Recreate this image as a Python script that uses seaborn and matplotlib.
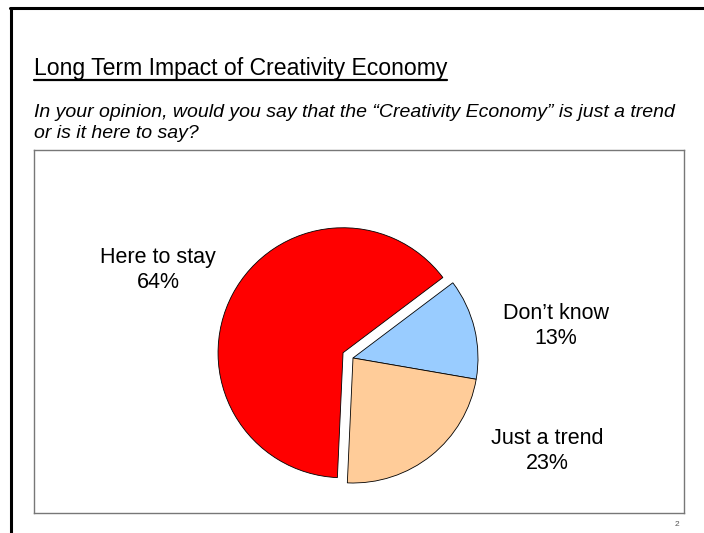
import matplotlib
matplotlib.use("Agg")
import matplotlib.pyplot as plt
import seaborn as sns
from matplotlib.lines import Line2D

# survey answers (clockwise from the upper right)
answers = ["Don\u2019t know", "Just a trend", "Here to stay"]
shares = [13, 23, 64]
slice_colors = ["#99CCFF", "#FFCC99", "#FF0000"]

title = "Long Term Impact of Creativity Economy"
question = ("In your opinion, would you say that the \u201cCreativity Economy\u201d is just a trend\n"
            "or is it here to say?")

W, H = 704, 533

sns.set_theme(style="white")
plt.rcParams["font.family"] = ["Liberation Sans", "DejaVu Sans"]
plt.rcParams["text.color"] = "black"

fig = plt.figure(figsize=(W / 100, H / 100), dpi=100)
fig.patch.set_facecolor("white")


def fx(px):
    return px / W


def fy(py):
    return 1 - py / H


# slide border (left + top)
fig.add_artist(Line2D([fx(11), fx(11)], [fy(8), fy(H)], color="black", lw=2.2,
                      transform=fig.transFigure))
fig.add_artist(Line2D([fx(10), fx(W)], [fy(8), fy(8)], color="black", lw=2.2,
                      transform=fig.transFigure))

# title, underlined
t = fig.text(fx(34), fy(75), title, fontsize=16.6, ha="left", va="baseline")
fig.canvas.draw()
bb = t.get_window_extent().transformed(fig.transFigure.inverted())
fig.add_artist(Line2D([bb.x0, bb.x1], [fy(80), fy(80)], color="black", lw=1.6,
                      transform=fig.transFigure))

fig.text(fx(34), fy(104), question, fontsize=14, style="italic", ha="left", va="top",
         linespacing=1.3)

# chart box
ax = fig.add_axes([fx(34), fy(513), fx(684 - 34), (513 - 150) / H])
for s in ax.spines.values():
    s.set_visible(True)
    s.set_color("#777777")
    s.set_linewidth(1.0)
ax.set_xticks([])
ax.set_yticks([])

scale = 125.0  # pixels per pie radius
cx, cy = (353 - 34) / scale, (513 - 358) / scale

explode = [0.09 if a == "Here to stay" else 0 for a in answers]
ax.pie(shares, colors=slice_colors, explode=explode, startangle=37, counterclock=False,
       center=(cx, cy), radius=1.0, frame=True,
       wedgeprops=dict(edgecolor="black", linewidth=0.6))
ax.set_xlim(0, 650 / scale)
ax.set_ylim(0, 363 / scale)
ax.set_aspect("equal")

label_pos = {
    "Here to stay": (158, 270),
    "Don\u2019t know": (556, 326),
    "Just a trend": (547, 451),
}
for a, v in zip(answers, shares):
    px, py = label_pos[a]
    ax.text((px - 34) / scale, (513 - py) / scale, f"{a}\n{v}%", ha="center", va="center",
            fontsize=15.5, linespacing=1.2, color="black")

fig.text(fx(677), fy(524), "2", fontsize=6, color="#555555", ha="center", va="center")

fig.savefig("out.png", dpi=100)
